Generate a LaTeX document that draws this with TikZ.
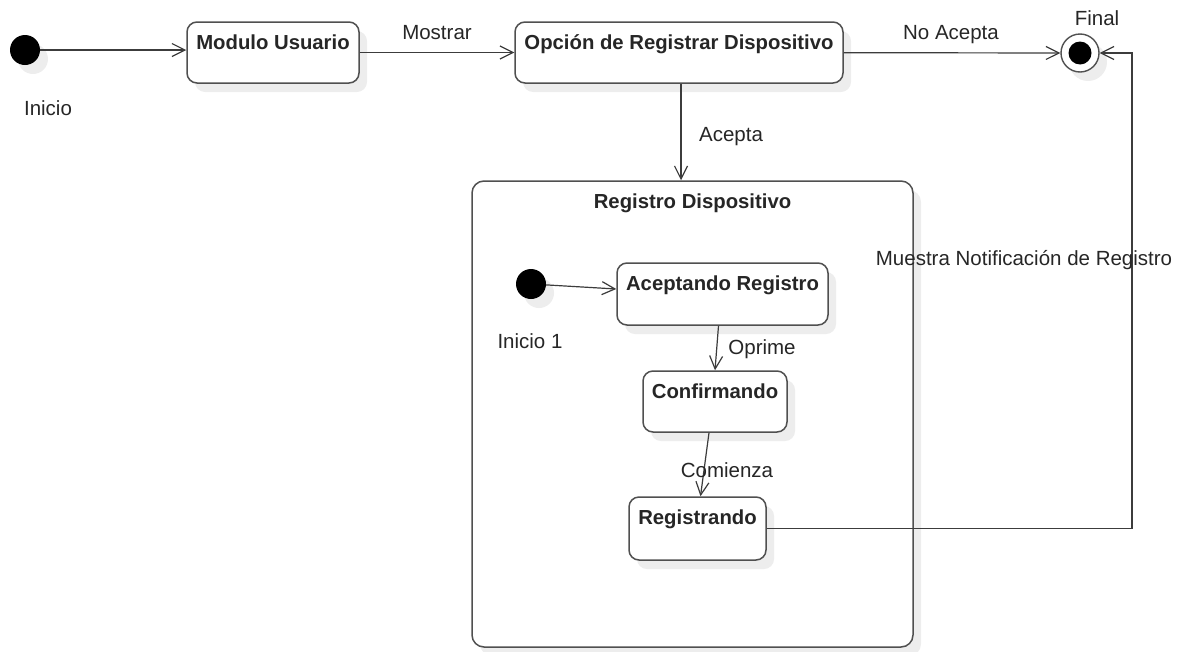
\documentclass[tikz,border=0pt]{standalone}
\usepackage{fontspec}
\setmainfont{Liberation Sans}
\usetikzlibrary{arrows.meta,shadows}

\definecolor{edge}{HTML}{505050}
\definecolor{wire}{HTML}{3C3C3C}
\definecolor{ink}{HTML}{262626}
\definecolor{shade}{HTML}{EDEDED}

\tikzset{
  softshadow/.style={drop shadow={shadow xshift=8pt, shadow yshift=-9pt, fill=shade, opacity=1}},
  state/.style={draw=edge, line width=1.5pt, rounded corners=10pt, fill=white, softshadow, inner sep=0pt},
  title/.style={anchor=base, yshift=-28pt, inner sep=0pt, text=ink, font=\bfseries\fontsize{20.3}{24}\selectfont},
  txt/.style={anchor=base, inner sep=0pt, text=ink, font=\fontsize{20.5}{24}\selectfont},
  startdot/.style={circle, fill=black, minimum size=30pt, inner sep=0pt, softshadow},
  enddot/.style={circle, draw=edge, line width=1.4pt, fill=white, minimum size=38pt, inner sep=0pt, softshadow},
  arr/.style={draw=wire, line width=1.2pt, -{Straight Barb[length=13pt, width=13pt, line width=1.2pt]}},
}

\begin{document}
\begin{tikzpicture}[x=1pt, y=-1pt]
\useasboundingbox (0,0) rectangle (1185,651);

% top row
\node[startdot] (s0) at (25,50) {};
\node[txt] (s0-lbl) at (48,115) {Inicio};
\node[state, minimum width=172pt, minimum height=61pt,
      label={[title]north:Modulo Usuario}] (mu) at (273,52.5) {};
\node[state, minimum width=328pt, minimum height=61pt,
      label={[title]north:Opción de Registrar Dispositivo}] (op) at (679,52.5) {};
\node[enddot] (fin) at (1080,53) {};
\node[circle, fill=black, minimum size=23pt, inner sep=0pt] (fin-core) at (fin) {};
\node[txt] (fin-lbl) at (1097,25) {Final};

% composite state
\node[state, rounded corners=12pt, minimum width=441pt, minimum height=466pt,
      label={[title]north:Registro Dispositivo}] (big) at (692.5,414) {};
\node[startdot] (s1) at (531,284) {};
\node[txt] (s1-lbl) at (530,348) {Inicio 1};
\node[state, minimum width=211pt, minimum height=62pt,
      label={[title]north:Aceptando Registro}] (ac) at (722.5,294) {};
\node[state, minimum width=144pt, minimum height=61pt,
      label={[title]north:Confirmando}] (cf) at (715,401.5) {};
\node[state, minimum width=137pt, minimum height=63pt,
      label={[title]north:Registrando}] (rg) at (697.5,528.5) {};
\coordinate (turn) at (1132,528.5);

% transitions
\draw[arr] (s0) -- (s0 -| mu.west);
\draw[arr] (mu) -- (op);
\draw[arr] (op) -- (fin);
\draw[arr] ([xshift=2pt]op.south) -- ([xshift=2pt]op.south |- big.north);
\draw[arr] (s1) -- ([yshift=5pt]ac.west);
\draw[arr] ([xshift=-4pt]ac.south) -- (cf.north);
\draw[arr] ([xshift=-6pt]cf.south) -- ([xshift=3pt]rg.north);
\draw[arr] (rg.east) -- (turn) |- (fin.east);

% transition labels
\node[txt] (t-mostrar) at (437,39) {Mostrar};
\node[txt] (t-noacepta) at (951,39) {No Acepta};
\node[txt] (t-acepta) at (731,141) {Acepta};
\node[txt] (t-oprime) at (762,354) {Oprime};
\node[txt] (t-comienza) at (727,477) {Comienza};
\node[txt] (t-muestra) at (1024,265) {Muestra Notificación de Registro};
\end{tikzpicture}
\end{document}
